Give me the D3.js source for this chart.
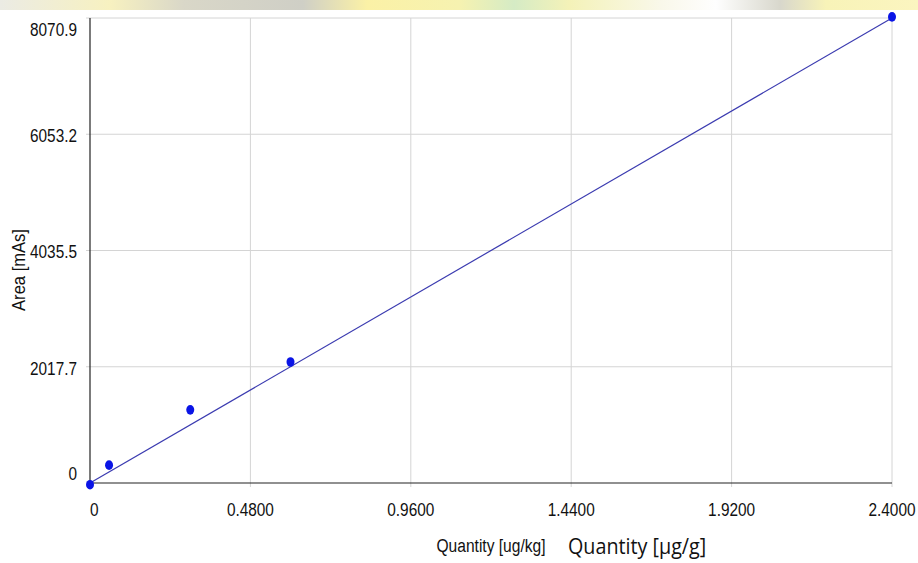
<!DOCTYPE html>
<meta charset="utf-8" />
<script src="https://d3js.org/d3.v7.min.js"></script>
<style>
  body { margin: 0; overflow: hidden; }
</style>
<div id="chart"></div>
<script>
  // calibration points
  const quantity = [0, 0.057, 0.3, 0.6, 2.4];
  const area = [-30, 310, 1270, 2100, 8090];
  // fitted calibration line (endpoints)
  const fitQuantity = [0, 2.4];
  const fitArea = [0, 8070.9];
  const xTicks = [0, 0.48, 0.96, 1.44, 1.92, 2.4];
  const xTickLabels = ["0", "0.4800", "0.9600", "1.4400", "1.9200", "2.4000"];
  const yTicks = [0, 2017.7, 4035.5, 6053.2, 8070.9];
  const yTickLabels = ["0", "2017.7", "4035.5", "6053.2", "8070.9"];

  const W = 918, H = 563;
  const plot = { left: 90, right: 892, top: 18, bottom: 483 };

  const svg = d3.select("#chart").append("svg")
    .attr("width", W).attr("height", H)
    .style("display", "block")
    .style("background", "#fff");

  // blurred banner strip at the top of the scan
  const grad = svg.append("defs").append("linearGradient").attr("id", "band");
  [[0, "#ebebe4"], [0.12, "#f7f1c0"], [0.2, "#d9d7c8"], [0.33, "#cfcfc6"], [0.4, "#fbf1a6"],
   [0.5, "#f6f2b0"], [0.56, "#d5ebc5"], [0.62, "#f4f2b8"], [0.72, "#f9f8ea"], [0.78, "#fefefe"],
   [0.85, "#d8d7cc"], [0.9, "#f8f3b8"], [1, "#fbf5c0"]].forEach(([o, c]) => {
    grad.append("stop").attr("offset", o).attr("stop-color", c);
  });
  svg.append("rect").attr("x", 0).attr("y", 0).attr("width", W).attr("height", 10)
    .attr("fill", "url(#band)");

  const x = d3.scaleLinear().domain([0, 2.4]).range([plot.left, plot.right]);
  const y = d3.scaleLinear().domain([0, 8070.9]).range([plot.bottom, plot.top]);

  // grid
  const grid = svg.append("g").attr("stroke", "#d4d4d4").attr("stroke-width", 1);
  grid.selectAll("line.gx").data(xTicks.slice(1)).join("line")
    .attr("x1", (d) => x(d)).attr("x2", (d) => x(d))
    .attr("y1", plot.top).attr("y2", plot.bottom + 4);
  grid.selectAll("line.gy").data(yTicks.slice(1)).join("line")
    .attr("y1", (d) => y(d)).attr("y2", (d) => y(d))
    .attr("x1", plot.left - 4).attr("x2", plot.right);

  // axes lines
  svg.append("line").attr("x1", plot.left).attr("x2", plot.left)
    .attr("y1", plot.top).attr("y2", plot.bottom)
    .attr("stroke", "#222").attr("stroke-width", 1.2);
  svg.append("line").attr("x1", plot.left).attr("x2", plot.right)
    .attr("y1", plot.bottom).attr("y2", plot.bottom)
    .attr("stroke", "#222").attr("stroke-width", 1.2);

  const tickFont = "'Liberation Sans', Arial, sans-serif";

  // y tick labels
  svg.selectAll("text.yt").data(yTicks).join("text")
    .attr("class", "yt")
    .attr("transform", (d) => {
      const by = Math.max(36, Math.min(480, y(d) + 8));
      return `translate(77,${by}) scale(0.83,1)`;
    })
    .attr("text-anchor", "end")
    .style("font-family", tickFont)
    .style("font-size", "18.5px")
    .style("fill", "#111")
    .text((d, i) => yTickLabels[i]);

  // x tick labels
  svg.selectAll("text.xt").data(xTicks).join("text")
    .attr("class", "xt")
    .attr("transform", (d) => `translate(${x(d)},516) scale(0.81,1)`)
    .attr("text-anchor", (d) => (d === 0 ? "start" : "middle"))
    .style("font-family", tickFont)
    .style("font-size", "19px")
    .style("fill", "#111")
    .text((d, i) => xTickLabels[i]);

  // axis titles
  svg.append("text")
    .attr("transform", "translate(25,270) rotate(-90) scale(0.92,1)")
    .attr("text-anchor", "middle")
    .style("font-family", tickFont)
    .style("font-size", "18px")
    .style("fill", "#111")
    .text("Area [mAs]");

  svg.append("text")
    .attr("transform", "translate(491,552) scale(0.82,1)")
    .attr("text-anchor", "middle")
    .style("font-family", tickFont)
    .style("font-size", "19px")
    .style("fill", "#111")
    .text("Quantity [ug/kg]");

  svg.append("text")
    .attr("transform", "translate(568,554) scale(0.94,1)")
    .style("font-family", "'Open Sans', 'Noto Sans', sans-serif")
    .style("font-size", "21px")
    .style("fill", "#111")
    .text("Quantity [µg/g]");

  // calibration line
  const line = d3.line().x((d) => x(d[0])).y((d) => y(d[1]));
  svg.append("path")
    .datum(d3.zip(fitQuantity, fitArea))
    .attr("d", line)
    .attr("fill", "none")
    .attr("stroke", "#3b3bb0")
    .attr("stroke-width", 1.2);

  // points
  svg.selectAll("ellipse.pt").data(d3.zip(quantity, area)).join("ellipse")
    .attr("cx", (d) => x(d[0]))
    .attr("cy", (d) => y(d[1]))
    .attr("rx", 4)
    .attr("ry", 4.8)
    .attr("fill", "#0a14e6");
</script>
